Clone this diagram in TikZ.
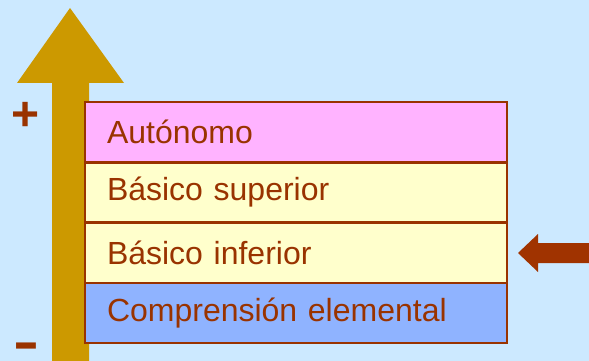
\documentclass[tikz,border=0pt]{standalone}
\usepackage{fontspec}
\setmainfont{Liberation Sans}
\definecolor{bg}{HTML}{CCE9FF}
\definecolor{gold}{HTML}{CC9900}
\definecolor{txt}{HTML}{993300}
\definecolor{rowpink}{HTML}{FFB3FF}
\definecolor{rowcream}{HTML}{FFFFCC}
\definecolor{rowblue}{HTML}{8FB3FF}
\definecolor{arrowred}{HTML}{A03300}
\tikzset{
  row/.style={rectangle, draw=txt, line width=2.5pt, minimum height=60pt,
    text width=378pt, inner xsep=22pt, inner ysep=0pt, align=left,
    text=txt, font=\fontsize{32}{38}\selectfont},
  sign/.style={text=txt, inner sep=0pt, font=\bfseries\fontsize{48}{50}\selectfont}
}
\begin{document}
\begin{tikzpicture}[x=1pt,y=-1pt]
\fill[bg] (0,0) rectangle (589,361);
\useasboundingbox (0,0) rectangle (589,361);
\fill[gold] (52,361) -- (52,83) -- (17,83) -- (70,8) -- (124,83) -- (89,83) -- (89,361) -- cycle;
\node[row, fill=rowpink] (r1) at (296,132) {Autónomo};
\node[row, fill=rowcream] (r2) at (296,192.5) {Básico superior};
\node[row, fill=rowcream] (r3) at (296,253) {Básico inferior};
\node[row, fill=rowblue] (r4) at (296,313) {Comprensión elemental};
\fill[arrowred] (518,253) -- (538,234) -- (538,243) -- (589,243) -- (589,263) -- (538,263) -- (538,272) -- cycle;
\node[sign] (plus) at (26,116) {+};
\node[sign, font=\bfseries\fontsize{52}{54}\selectfont, xscale=1.5] (minus) at (26,351) {-};
\end{tikzpicture}
\end{document}
